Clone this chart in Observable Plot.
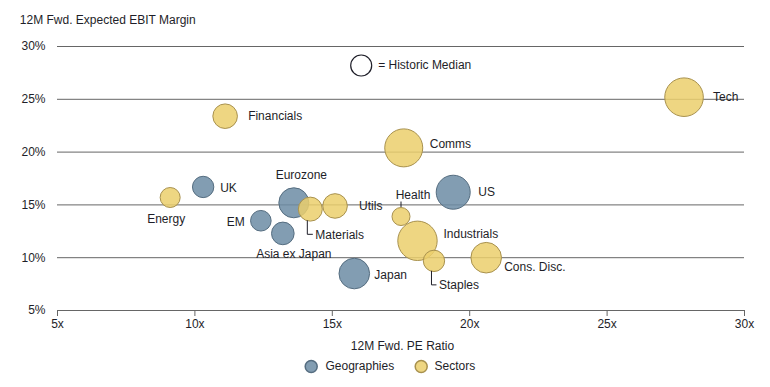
<!DOCTYPE html>
<html><head><meta charset="utf-8">
<script src="https://cdn.jsdelivr.net/npm/d3@7"></script>
<script src="https://cdn.jsdelivr.net/npm/@observablehq/plot@0.6"></script>
<style>body{margin:0;background:#fff}</style>
</head><body><div id="chart"></div>
<script>
// ---- data ----
const geoNames = ["UK", "Eurozone", "EM", "Asia ex Japan", "Japan", "US"];
const geoPE = [10.3, 13.6, 12.4, 13.2, 15.8, 19.4];
const geoMargin = [16.7, 15.2, 13.5, 12.3, 8.5, 16.2];
const geoSize = [114, 225, 106, 128, 234, 289];

const sectorNames = ["Tech", "Financials", "Comms", "Health", "Industrials", "Staples", "Cons. Disc.", "Energy", "Materials", "Utils"];
const sectorPE = [27.8, 11.1, 17.6, 17.5, 18.1, 18.7, 20.6, 9.1, 14.2, 15.1];
const sectorMargin = [25.2, 23.4, 20.4, 13.9, 11.6, 9.7, 10.0, 15.7, 14.6, 14.9];
const sectorSize = [372, 151, 361, 81, 388, 114, 234, 100, 144, 151];

const groups = ["Geographies", "Sectors"];
const xTicks = [5, 10, 15, 20, 25, 30];
const yTicks = [5, 10, 15, 20, 25, 30];
const titleText = "12M Fwd. Expected EBIT Margin";
const xLabelText = "12M Fwd. PE Ratio";
const medianText = "= Historic Median";

// ---- build tables ----
const geo = geoNames.map((name, i) => ({name, group: groups[0], pe: geoPE[i], margin: geoMargin[i], size: geoSize[i]}));
const sec = sectorNames.map((name, i) => ({name, group: groups[1], pe: sectorPE[i], margin: sectorMargin[i], size: sectorSize[i]}));
const all = geo.concat(sec);

// ---- styling ----
const fillOf = {Geographies: "#6c8ca5", Sectors: "#ebcf6c"};
const strokeOf = {Geographies: "#556d80", Sectors: "#a8914e"};
const ink = "#1e1e28";
const gridColor = "#666";

// label placement (pixel offsets from bubble centre)
const labelPlace = {
  "Tech": [29, 0, "start"],
  "Financials": [23, 0, "start"],
  "Comms": [26, -4, "start"],
  "US": [25, 0, "start"],
  "Health": [12, -21, "middle"],
  "Industrials": [26, -7, "start"],
  "Staples": [5, 24, "start"],
  "Cons. Disc.": [18, 9, "start"],
  "Japan": [20, 2, "start"],
  "Energy": [-4, 22, "middle"],
  "UK": [17, 1, "start"],
  "Eurozone": [7.5, -28, "middle"],
  "Materials": [5, 25.7, "start"],
  "Utils": [24, 0, "start"],
  "EM": [-16, 1, "end"],
  "Asia ex Japan": [11, 21, "middle"]
};
// leader lines: [x offset of line, end y offset, horizontal end offset or null]
const leaderPlace = {
  "Health": [0.5, -14.5, null],
  "Materials": [-2.5, 25.7, 3],
  "Staples": [-2, 24.5, 3]
};

const labelMarks = all.map(d => {
  const [dx, dy, anchor] = labelPlace[d.name];
  return Plot.text([d], {x: "pe", y: "margin", text: "name", dx, dy, textAnchor: anchor, fill: ink});
});

const leaderMark = (index, scales) => {
  const g = d3.create("svg:g").attr("stroke", ink).attr("fill", "none").attr("stroke-width", 1);
  for (const d of all) {
    const p = leaderPlace[d.name];
    if (!p) continue;
    const cx = scales.x(d.pe), cy = scales.y(d.margin), r = scales.r(d.size);
    const lx = cx + p[0];
    const h = Math.sqrt(Math.max(r * r - p[0] * p[0], 0));
    const y0 = p[1] < 0 ? cy - h : cy + h;
    const y1 = cy + p[1];
    let path = `M${lx},${y0}L${lx},${y1}`;
    if (p[2] != null) path += `L${cx + p[2]},${y1}`;
    g.append("path").attr("d", path);
  }
  return g.node();
};

const chart = Plot.plot({
  width: 770,
  height: 387,
  marginTop: 46,
  marginBottom: 77,
  marginLeft: 57,
  marginRight: 26,
  style: {fontFamily: "'Liberation Sans', Arial, sans-serif", fontSize: "12px", color: ink, background: "#fff", overflow: "visible"},
  x: {domain: [5, 30], axis: null},
  y: {domain: [5, 30], axis: null},
  r: {type: "sqrt", domain: [0, 400], range: [0, 20]},
  marks: [
    Plot.gridY({ticks: yTicks.slice(1), stroke: gridColor, strokeOpacity: 1}),
    Plot.ruleY([yTicks[0]], {stroke: gridColor}),
    Plot.axisY({ticks: yTicks, tickSize: 0, tickPadding: 12, tickFormat: d => d + "%", label: null, fill: ink}),
    Plot.axisX({ticks: xTicks, tickSize: 6, tickPadding: 3, tickFormat: d => d + "x", label: null, stroke: gridColor, fill: ink}),
    Plot.text([titleText], {frameAnchor: "top-left", dx: -37.7, dy: -26.7, textAnchor: "start", lineAnchor: "middle", fill: ink}),
    Plot.text([xLabelText], {frameAnchor: "bottom", dx: 1.5, dy: 36, lineAnchor: "middle", fill: ink}),
    Plot.dot(geo, {x: "pe", y: "margin", r: "size", fill: fillOf.Geographies, fillOpacity: 0.85, stroke: strokeOf.Geographies, strokeWidth: 1}),
    Plot.dot(sec, {x: "pe", y: "margin", r: "size", fill: fillOf.Sectors, fillOpacity: 0.85, stroke: strokeOf.Sectors, strokeWidth: 1}),
    leaderMark,
    ...labelMarks,
    // historic median key
    Plot.dot([medianText], {frameAnchor: "top", dx: -39.8, dy: 19, r: 10.5, stroke: ink, strokeWidth: 1.2, fill: "none"}),
    Plot.text([medianText], {frameAnchor: "top", dx: -22.8, dy: 19, textAnchor: "start", lineAnchor: "middle", fill: ink}),
    // group legend
    Plot.dot([groups[0]], {frameAnchor: "bottom", dx: -89.8, dy: 56, r: 6, fill: fillOf.Geographies, fillOpacity: 0.85, stroke: strokeOf.Geographies}),
    Plot.text([groups[0]], {frameAnchor: "bottom", dx: -75.5, dy: 56, textAnchor: "start", lineAnchor: "middle", fill: ink}),
    Plot.dot([groups[1]], {frameAnchor: "bottom", dx: 20.2, dy: 56, r: 6, fill: fillOf.Sectors, fillOpacity: 0.85, stroke: strokeOf.Sectors}),
    Plot.text([groups[1]], {frameAnchor: "bottom", dx: 33.5, dy: 56, textAnchor: "start", lineAnchor: "middle", fill: ink})
  ]
});
document.getElementById("chart").appendChild(chart);
</script>
</body></html>
